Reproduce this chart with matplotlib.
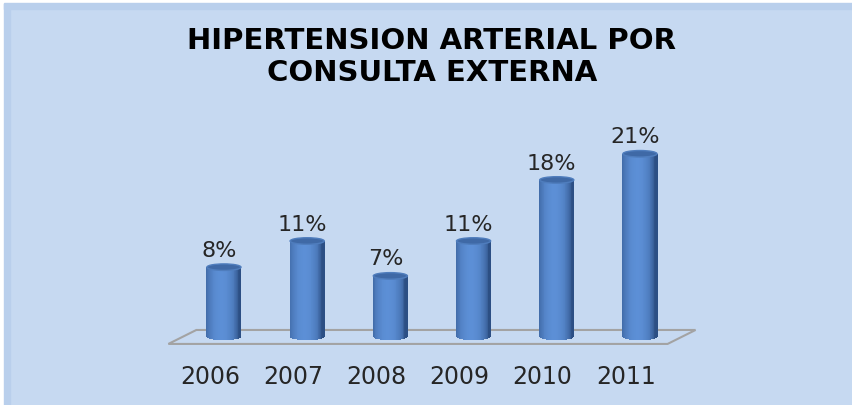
import numpy as np
import matplotlib.pyplot as plt
from matplotlib.patches import Ellipse, Polygon, Rectangle
from matplotlib.colors import to_rgb

# data
years = ["2006", "2007", "2008", "2009", "2010", "2011"]
values = [8, 11, 7, 11, 18, 21]
labels = ["8%", "11%", "7%", "11%", "18%", "21%"]
title = "HIPERTENSION ARTERIAL POR\nCONSULTA EXTERNA"

BG = "#c6d9f1"
DARK = np.array(to_rgb("#2c4f84"))
LIGHT = np.array(to_rgb("#5c8fd6"))

fig = plt.figure(figsize=(8.53, 4.06), dpi=100, facecolor=BG)

# thin frame on the left and top edges of the screenshot
fig.patches.append(Rectangle((0, 0), 4 / 853, 1, transform=fig.transFigure, color="white", zorder=0))
fig.patches.append(Rectangle((4 / 853, 0), 6 / 853, 1, transform=fig.transFigure, color="#b9cfec", zorder=0))
fig.patches.append(Rectangle((0, 1 - 4 / 406), 1, 4 / 406, transform=fig.transFigure, color="white", zorder=0))
fig.patches.append(Rectangle((4 / 853, 1 - 10 / 406), 1, 6 / 406, transform=fig.transFigure, color="#b9cfec", zorder=0))

ax = fig.add_axes([0.165, 0.0387, 0.6828, 0.666])
ax.set_xlim(-1, 6)
ax.set_ylim(-6, 25)
ax.axis("off")

x = np.arange(len(values))

# floor of the 3d plot
dx, dy = 0.168, 0.8
floor = Polygon([(-0.5 - dx, -dy), (5.5 - dx, -dy), (5.5 + dx, dy), (-0.5 + dx, dy)],
                closed=True, facecolor="none", edgecolor="#a3a3a3", lw=1.5, zorder=1)
ax.add_patch(floor)

# cylinders drawn as thin strips with shading
bw = 0.41
eh = 0.75
n = 40
t = np.linspace(-1, 1, n)
shade = np.clip(1 - ((t + 0.15) / 1.0) ** 2, 0, 1) ** 0.6
cols = [DARK + (LIGHT - DARK) * s for s in shade]
curve = eh / 2 * np.sqrt(1 - t ** 2)

for xi, v in zip(x, values):
    xs = xi + t * bw / 2
    ax.bar(xs, v + curve, bottom=-curve, width=bw / n * 1.15, color=cols, lw=0, zorder=2)
    ax.add_patch(Ellipse((xi, v), bw, eh, facecolor="#3f69a6", edgecolor="#4f7dbd", lw=1.0, zorder=3))

for xi, v, lab in zip(x, values, labels):
    ax.text(xi - 0.06, v + 2.0, lab, ha="center", va="center", fontsize=16, color="#262626")

for xi, yr in zip(x, years):
    ax.text(xi - 0.17, -4.5, yr, ha="center", va="center", fontsize=17, color="#262626")

fig.text(432 / 853, 1 - 57 / 406, title, ha="center", va="center", fontsize=21,
         fontweight="bold", color="black", linespacing=1.15)

fig.savefig("out.png", dpi=100, facecolor=BG)
